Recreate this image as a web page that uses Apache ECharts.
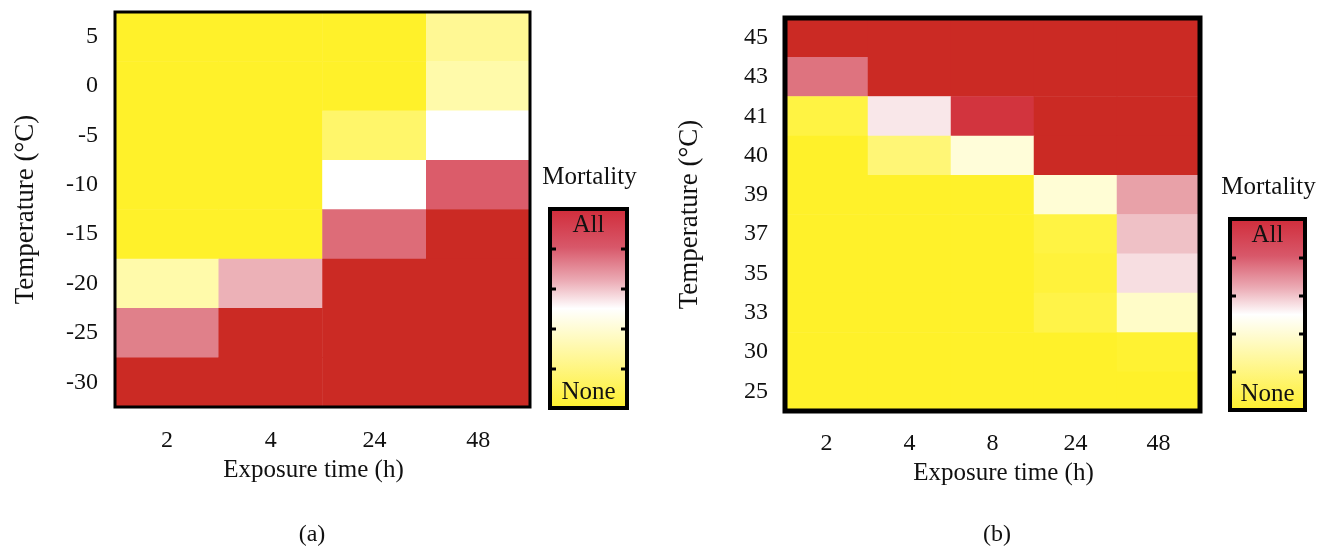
<!DOCTYPE html>
<html>
<head>
<meta charset="utf-8">
<script src="https://cdn.jsdelivr.net/npm/echarts@6/dist/echarts.min.js"></script>
<style>
html,body{margin:0;padding:0;background:#fff;}
#chart{width:1331px;height:550px;}
</style>
</head>
<body>
<div id="chart"></div>
<script>
// ---- data ----
const timesA = ['2', '4', '24', '48'];
const tempsA = ['5', '0', '-5', '-10', '-15', '-20', '-25', '-30']; // top to bottom
const mortA = [
  [0, 0, 0, 0.25],
  [0, 0, 0, 0.3],
  [0, 0, 0.15, 0.5],
  [0, 0, 0.5, 0.814],
  [0, 0, 0.786, 1],
  [0.3, 0.66, 1, 1],
  [0.75, 1, 1, 1],
  [1, 1, 1, 1]
];
const timesB = ['2', '4', '8', '24', '48'];
const tempsB = ['45', '43', '41', '40', '39', '37', '35', '33', '30', '25']; // top to bottom
const mortB = [
  [1, 1, 1, 1, 1],
  [0.773, 1, 1, 1, 1],
  [0.06, 0.55, 0.92, 1, 1],
  [0, 0.18, 0.41, 1, 1],
  [0, 0, 0, 0.4, 0.69],
  [0, 0, 0, 0.06, 0.63],
  [0, 0, 0, 0.04, 0.57],
  [0, 0, 0, 0.07, 0.37],
  [0, 0, 0, 0, 0.02],
  [0, 0, 0, 0, 0]
];
const scaleLabels = ['All', 'None'];
const barTitle = 'Mortality';

// ---- build ----
function toCells(rows) {
  const out = [];
  rows.forEach((r, yi) => r.forEach((v, xi) => out.push([xi, yi, v])));
  return out;
}
const FONT = 'Liberation Serif';
const palette = ['#FFF12A', '#FFF55F', '#FFF894', '#FFFCCA', '#FFFFFF', '#F0C4C9', '#E0808A', '#D63A4C', '#CB2A24'];

const gridA = {left: 115, top: 12, width: 415, height: 395};
const gridB = {left: 785, top: 18, width: 415, height: 393};

function xAx(idx, data, gap, margin, pad) {
  return {
    type: 'category', gridIndex: idx, data: data,
    axisLine: {show: false}, axisTick: {show: false}, splitLine: {show: false},
    axisLabel: {fontFamily: FONT, fontSize: 24, color: '#111', margin: margin},
    name: 'Exposure time (h)', nameLocation: 'middle', nameGap: gap,
    nameTextStyle: {fontFamily: FONT, fontSize: 25, color: '#111', padding: pad}
  };
}
function yAx(idx, data, gap) {
  return {
    type: 'category', gridIndex: idx, data: data, inverse: true,
    axisLine: {show: false}, axisTick: {show: false}, splitLine: {show: false},
    axisLabel: {fontFamily: FONT, fontSize: 24, color: '#111', margin: 17},
    name: 'Temperature (°C)', nameLocation: 'middle', nameGap: gap,
    nameTextStyle: {fontFamily: FONT, fontSize: 27, color: '#111'}
  };
}

function colorBar(x, y, w, h, ticks, titleY) {
  const els = [];
  els.push({
    type: 'rect', shape: {x: x, y: y, width: w, height: h}, z: 10,
    style: {
      fill: {type: 'linear', x: 0, y: 0, x2: 0, y2: 1, colorStops: [
        {offset: 0, color: '#D02A38'},
        {offset: 0.2, color: '#D8586A'},
        {offset: 0.36, color: '#EBA9B3'},
        {offset: 0.5, color: '#FFFFFF'},
        {offset: 0.72, color: '#FFF8A0'},
        {offset: 1, color: '#FEEF2A'}
      ]},
      stroke: '#000', lineWidth: 4
    }
  });
  ticks.forEach(t => {
    els.push({type: 'line', z: 11, shape: {x1: x, y1: t, x2: x + 6, y2: t}, style: {stroke: '#000', lineWidth: 3}});
    els.push({type: 'line', z: 11, shape: {x1: x + w - 6, y1: t, x2: x + w, y2: t}, style: {stroke: '#000', lineWidth: 3}});
  });
  els.push({type: 'text', z: 12, x: x + w / 2, y: y + 16, style: {text: scaleLabels[0], font: '25px ' + FONT, fill: '#111', align: 'center', verticalAlign: 'middle'}});
  els.push({type: 'text', z: 12, x: x + w / 2, y: y + h - 16, style: {text: scaleLabels[1], font: '25px ' + FONT, fill: '#111', align: 'center', verticalAlign: 'middle'}});
  els.push({type: 'text', z: 12, x: x + w / 2 + 1, y: titleY, style: {text: barTitle, font: '25px ' + FONT, fill: '#111', align: 'center', verticalAlign: 'middle'}});
  return els;
}

const chart = echarts.init(document.getElementById('chart'));
chart.setOption({
  backgroundColor: '#fff',
  animation: false,
  grid: [
    Object.assign({show: true, z: 5, borderColor: '#000', borderWidth: 3, backgroundColor: 'transparent'}, gridA),
    Object.assign({show: true, z: 5, borderColor: '#000', borderWidth: 5, backgroundColor: 'transparent'}, gridB)
  ],
  xAxis: [xAx(0, timesA, 46, 22, [0, 18, 0, 0]), xAx(1, timesB, 49, 21, [0, 0, 0, 22])],
  yAxis: [yAx(0, tempsA, 76), yAx(1, tempsB, 82)],
  visualMap: [
    {type: 'continuous', show: false, min: 0, max: 1, seriesIndex: 0, inRange: {color: palette}},
    {type: 'continuous', show: false, min: 0, max: 1, seriesIndex: 1, inRange: {color: palette}}
  ],
  series: [
    {type: 'heatmap', xAxisIndex: 0, yAxisIndex: 0, data: toCells(mortA), itemStyle: {borderWidth: 0}, emphasis: {disabled: true}},
    {type: 'heatmap', xAxisIndex: 1, yAxisIndex: 1, data: toCells(mortB), itemStyle: {borderWidth: 0}, emphasis: {disabled: true}}
  ],
  graphic: [
    ...colorBar(550, 209, 77, 199, [249, 289, 329, 369], 177),
    ...colorBar(1230, 219, 75, 191, [258, 296, 334, 372], 187),
    {type: 'text', x: 312, y: 535, style: {text: '(a)', font: '24px ' + FONT, fill: '#111', align: 'center', verticalAlign: 'middle'}},
    {type: 'text', x: 997, y: 535, style: {text: '(b)', font: '24px ' + FONT, fill: '#111', align: 'center', verticalAlign: 'middle'}}
  ]
});
</script>
</body>
</html>
